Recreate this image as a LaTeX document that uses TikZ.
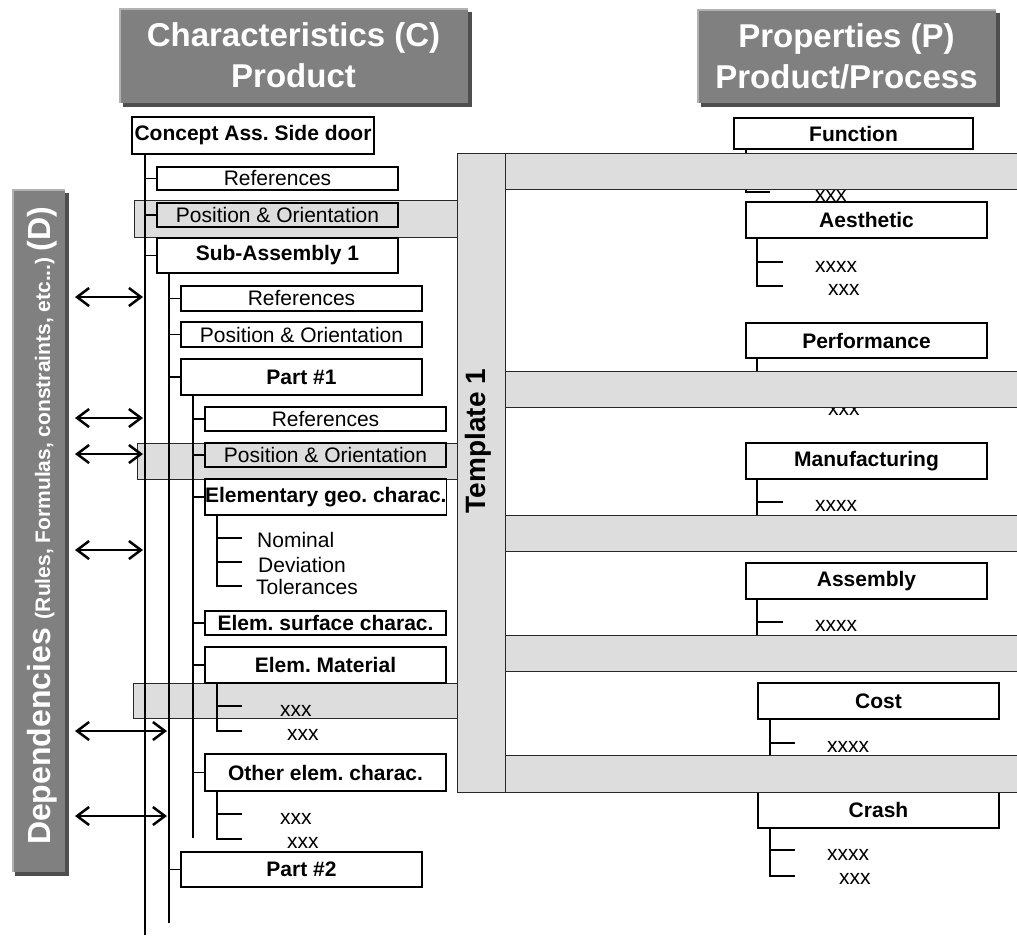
\documentclass[tikz,border=0pt]{standalone}
\usepackage{fontspec}
\setmainfont{Liberation Sans}
\usetikzlibrary{arrows.meta}
\definecolor{hdrgray}{RGB}{128,128,128}
\definecolor{hdrlight}{RGB}{178,178,178}
\definecolor{hdrdark}{RGB}{78,78,78}
\definecolor{bandgray}{RGB}{221,221,221}
\definecolor{bandline}{RGB}{40,40,40}
\frenchspacing

\begin{document}
\begin{tikzpicture}[x=1pt,y=-1pt,
  bx/.style={draw, line width=1.3pt, inner sep=0pt, outer sep=0pt, anchor=north west, text=black},
  bb/.style={bx, font=\fontsize{21}{25}\selectfont\bfseries},
  br/.style={bx, font=\fontsize{21}{25}\selectfont},
  lbl/.style={inner sep=0pt, anchor=base west, font=\fontsize{21}{25}\selectfont},
  tree/.style={line width=1.3pt},
  band/.style={fill=bandgray, draw=bandline, line width=1pt},
  dep/.style={line width=2.5pt, {Straight Barb[length=12pt,width=18pt]}-{Straight Barb[length=12pt,width=18pt]}},
  hdr/.style={text=white, font=\fontsize{33}{40}\selectfont\bfseries, inner sep=0pt, anchor=base},
]
\useasboundingbox (0,0) rectangle (1017,936);

% ---- title panels ----
\fill[hdrdark] (123,12) rectangle (472,107);
\fill[hdrgray] (119,8) rectangle (468,103);
\draw[hdrlight, line width=2pt] (120,103) -- (120,9) -- (468,9);
\node[hdr] (hc1) at (293.5,47) {Characteristics (C)};
\node[hdr] (hc2) at (293.5,88) {Product};

\fill[hdrdark] (701,13) rectangle (1000,107);
\fill[hdrgray] (697,9) rectangle (996,103);
\draw[hdrlight, line width=2pt] (698,103) -- (698,10) -- (996,10);
\node[hdr] (hp1) at (846.5,48) {Properties (P)};
\node[hdr] (hp2) at (846.5,89) {Product/Process};

\fill[hdrdark] (15,193) rectangle (69,876);
\fill[hdrgray] (12,189) rectangle (65,872);
\draw[hdrlight, line width=2pt] (13,872) -- (13,190) -- (65,190);
\node[rotate=90, anchor=base, text=white, inner sep=0pt] (deptext) at (50,526)
  {\fontsize{32}{36}\selectfont\bfseries Dependencies \fontsize{21}{25}\selectfont(Rules, Formulas, constraints, etc...) \fontsize{32}{36}\selectfont(D)};

% ---- highlight bands on the characteristics side ----
\draw[band] (134,201) rectangle (457,237);
\draw[band] (137,443) rectangle (457,479);
\draw[band] (133,683) rectangle (457,718);

% ---- properties tree ----
\node[bb, minimum width=239pt, minimum height=31pt] (func) at (734,118) {Function};
\draw[tree] ([xshift=12pt]func.south west) |- (770,192);
\node[lbl] (funcx) at (815,201) {xxx};

\node[bb, minimum width=241pt, minimum height=36pt] (aes) at (746,202) {Aesthetic};
\draw[tree] ([xshift=11pt]aes.south west) |- (783,286);
\draw[tree] (757,262) -- (783,262);
\node[lbl] (aesx1) at (815,272) {xxxx};
\node[lbl] (aesx2) at (828,295) {xxx};

\node[bb, minimum width=241pt, minimum height=35pt] (perf) at (746,323) {Performance};
\draw[tree] ([xshift=11pt]perf.south west) |- (783,407);
\node[lbl] (perfx) at (828,415) {xxx};

\node[bb, minimum width=241pt, minimum height=36pt] (manu) at (746,443) {Manufacturing};
\draw[tree] ([xshift=11pt]manu.south west) -- (757,525);
\draw[tree] (757,502) -- (783,502);
\node[lbl] (manux) at (815,511) {xxxx};

\node[bb, minimum width=241pt, minimum height=36pt] (assy) at (746,563) {Assembly};
\draw[tree] ([xshift=11pt]assy.south west) -- (757,645);
\draw[tree] (757,622) -- (783,622);
\node[lbl] (assyx) at (815,631) {xxxx};

\node[bb, minimum width=241pt, minimum height=36pt] (cost) at (758,683) {Cost};
\draw[tree] ([xshift=12pt]cost.south west) -- (770,765);
\draw[tree] (770,743) -- (795,743);
\node[lbl] (costx) at (827,752) {xxxx};

\node[bb, minimum width=241pt, minimum height=36pt] (crash) at (758,792) {Crash};
\draw[tree] ([xshift=12pt]crash.south west) |- (795,876);
\draw[tree] (770,850) -- (795,850);
\node[lbl] (crashx1) at (827,860) {xxxx};
\node[lbl] (crashx2) at (839,884) {xxx};

% ---- bands on the properties side ----
\foreach \ya/\yb in {154/190, 371/407, 515/551, 635/671, 755/792}{
  \fill[bandgray] (505,\ya) rectangle (1017,\yb);
  \draw[bandline, line width=1pt] (505,\ya) -- (1017,\ya) (505,\yb) -- (1017,\yb);
}

% ---- template column ----
\node[band, inner sep=0pt, outer sep=0pt, anchor=north west, minimum width=48pt, minimum height=638pt] (tmpl) at (457,154) {};
\node[rotate=90, anchor=base, inner sep=0pt, font=\fontsize{28}{30}\selectfont\bfseries] (tmpltext) at (485,441) {Template 1};

% ---- characteristics tree ----
\node[bb, minimum width=242pt, minimum height=37pt] (concept) at (132,117) {Concept Ass. Side door};
\node[br, minimum width=241pt, minimum height=23pt] (ref1) at (157,167) {References};
\node[br, minimum width=241pt, minimum height=24pt] (pos1) at (157,203) {Position \& Orientation};
\node[bb, minimum width=241pt, minimum height=35pt] (sub1) at (157,238) {Sub-Assembly 1};
\node[br, minimum width=241pt, minimum height=25pt] (ref2) at (181,286) {References};
\node[br, minimum width=241pt, minimum height=25pt] (pos2) at (181,322) {Position \& Orientation};
\node[bb, minimum width=241pt, minimum height=36pt] (part1) at (181,359) {Part \#1};
\node[br, minimum width=241pt, minimum height=24pt] (ref3) at (205,407) {References};
\node[br, minimum width=241pt, minimum height=24pt] (pos3) at (205,443) {Position \& Orientation};
\node[bb, minimum width=241pt, minimum height=36pt] (elgeo) at (205,479) {Elementary geo. charac.};
\node[bb, minimum width=241pt, minimum height=24pt] (elsurf) at (205,611) {Elem. surface charac.};
\node[bb, minimum width=241pt, minimum height=36pt] (elmat) at (205,647) {Elem. Material};
\node[bb, minimum width=241pt, minimum height=37pt] (other) at (205,754) {Other elem. charac.};
\node[bb, minimum width=241pt, minimum height=35pt] (part2) at (181,852) {Part \#2};

% trunks
\coordinate (t1) at ([xshift=13pt]concept.south west);
\coordinate (t2) at ([xshift=12pt]sub1.south west);
\coordinate (t3) at ([xshift=12pt]part1.south west);
\draw[tree] (t1) -- (145,935);
\draw[tree] (t2) -- (169,923);
\draw[tree] (t3) -- (193,838);
% branches
\foreach \n in {ref1,pos1,sub1}{\draw[tree] (t1 |- \n.west) -- (\n.west);}
\foreach \n in {ref2,pos2,part1,part2}{\draw[tree] (t2 |- \n.west) -- (\n.west);}
\foreach \n in {ref3,pos3,elgeo,elsurf,elmat,other}{\draw[tree] (t3 |- \n.west) -- (\n.west);}

% leaf lists
\draw[tree] ([xshift=12pt]elgeo.south west) |- (242,586);
\draw[tree] (217,538) -- (242,538) (217,562) -- (242,562);
\node[lbl] (nom) at (257,547) {Nominal};
\node[lbl] (dev) at (258,572) {Deviation};
\node[lbl] (tol) at (256,594) {Tolerances};

\draw[tree] ([xshift=12pt]elmat.south west) |- (242,731);
\draw[tree] (217,706) -- (242,706);
\node[lbl] (matx1) at (280,716) {xxx};
\node[lbl] (matx2) at (287,740) {xxx};

\draw[tree] ([xshift=12pt]other.south west) |- (242,839);
\draw[tree] (217,814) -- (242,814);
\node[lbl] (othx1) at (280,824) {xxx};
\node[lbl] (othx2) at (287,848) {xxx};

% ---- dependency arrows ----
\foreach \i/\y/\xr in {1/297/143, 2/418/143, 3/454/143, 4/550/143, 5/731/167, 6/816/167}{
  \coordinate (dl\i) at (75,\y);
  \coordinate (dr\i) at (\xr,\y);
  \draw[dep] (dl\i) -- (dr\i);
}
\end{tikzpicture}
\end{document}
